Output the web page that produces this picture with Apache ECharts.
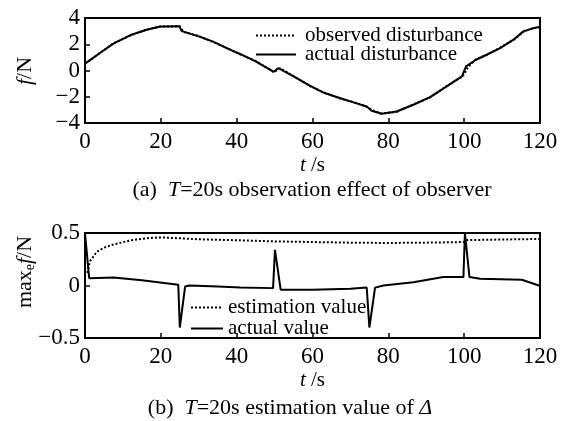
<!DOCTYPE html>
<html>
<head>
<meta charset="utf-8">
<script src="https://cdn.jsdelivr.net/npm/echarts@6/dist/echarts.min.js"></script>
<style>
    html, body { margin: 0; padding: 0; background: #fff; }
    #id-div-chart { width: 561px; height: 421px; }
</style>
</head>
<body>
<div id="id-div-chart"></div>
<script>
// (a) 扰动观测
const actualTime = [0, 4, 7.5, 12, 16.3, 19.8, 24.9, 25.5, 30, 33.8, 38.2, 40.9, 45, 49.8, 50.1, 51, 55, 59.3, 63, 67.2, 71, 74.3, 75.6, 78.2, 82.2, 86.6, 91, 95.4, 99.4, 99.8, 100.5, 103, 105.9, 109.5, 113, 115.6, 118, 120]
const actualForce = [0.52, 1.35, 2.05, 2.7, 3.1, 3.35, 3.37, 3.0, 2.6, 2.2, 1.59, 1.26, 0.7, -0.1, -0.19, 0.19, -0.45, -1.16, -1.7, -2.1, -2.45, -2.74, -3.07, -3.3, -3.12, -2.61, -2.03, -1.21, -0.45, -0.32, 0.31, 0.8, 1.2, 1.71, 2.35, 2.98, 3.2, 3.33]
const observedTime = [0, 4, 7.5, 12, 16.3, 19.8, 24.9, 26, 30, 33.8, 38.2, 40.9, 45, 49.8, 50.3, 51.5, 55, 59.3, 63, 67.2, 71, 74.3, 76, 78.2, 82.2, 86.6, 91, 95.4, 99.4, 100, 101, 103, 105.9, 109.5, 113, 115.6, 118, 120]
const observedForce = [0.5, 1.33, 2.08, 2.66, 3.13, 3.33, 3.39, 2.95, 2.62, 2.17, 1.61, 1.23, 0.73, -0.12, -0.17, 0.16, -0.42, -1.19, -1.67, -2.14, -2.42, -2.77, -3.05, -3.28, -3.15, -2.58, -2.06, -1.18, -0.48, -0.28, 0.27, 0.83, 1.17, 1.74, 2.32, 2.95, 3.22, 3.3]

// (b) 估计值
const estimateTime = [0.6, 1.3, 3.1, 5, 7.5, 12, 16.3, 19.8, 24.9, 30, 40.9, 50, 60, 70, 80, 90, 99.8, 100.5, 110, 120]
const estimateValue = [0.12, 0.23, 0.32, 0.36, 0.39, 0.43, 0.45, 0.458, 0.45, 0.44, 0.43, 0.42, 0.414, 0.408, 0.405, 0.408, 0.414, 0.432, 0.438, 0.443]
const deltaTime = [0, 1.1, 7.5, 15, 24.6, 25, 26.4, 27.5, 35, 41, 49.6, 50.1, 51.6, 60, 70, 74.3, 75, 76.5, 78.7, 86.6, 94.5, 99.8, 100.2, 101.4, 104.2, 115.2, 119.7, 120]
const deltaValue = [0.5, 0.07, 0.077, 0.05, 0.008, -0.4, -0.01, 0.0, -0.01, -0.02, -0.025, 0.34, -0.04, -0.04, -0.03, -0.02, -0.4, -0.02, 0.0, 0.03, 0.08, 0.08, 0.5, 0.08, 0.065, 0.055, 0.0, 0.0]

const font = 'Liberation Serif'

const zip = function (xs, ys) {
    let r = []
    for (let i = 0; i < xs.length; i++) {
        r.push([xs[i], ys[i]])
    }
    return r
}

const minus = function (v) {
    return String(v).replace('-', '\u2212')
}

const xAxisFor = function (index) {
    return {
        type: 'value',
        gridIndex: index,
        min: 0,
        max: 120,
        interval: 20,
        name: '{i|t}{n| /s}',
        nameLocation: 'middle',
        nameGap: 32,
        nameTextStyle: {
            rich: {
                i: { fontFamily: font, fontSize: 21, fontStyle: 'italic', color: '#000' },
                n: { fontFamily: font, fontSize: 21, color: '#000' },
            },
        },
        axisLine: { show: false, onZero: false },
        axisTick: { inside: true, length: 5, lineStyle: { color: '#000', width: 1.5 } },
        axisLabel: { color: '#000', fontFamily: font, fontSize: 23, margin: 7 },
        splitLine: { show: false },
    }
}

const yAxisFor = function (index, min, max, interval) {
    return {
        type: 'value',
        gridIndex: index,
        min: min,
        max: max,
        interval: interval,
        axisLine: { show: false, onZero: false },
        axisTick: { inside: true, length: 5, lineStyle: { color: '#000', width: 1.5 } },
        axisLabel: {
            color: '#000', fontFamily: font, fontSize: 23, margin: 5,
            formatter: (v) => minus(v),
        },
        splitLine: { show: false },
    }
}

const lineSeries = function (name, index, data, dotted) {
    return {
        name: name,
        type: 'line',
        xAxisIndex: index,
        yAxisIndex: index,
        data: data,
        symbol: 'none',
        animation: false,
        lineStyle: {
            color: '#000',
            width: 2,
            type: dotted ? [2, 2] : 'solid',
        },
        itemStyle: { color: '#000' },
    }
}

const legendFor = function (names, left, top, width, pad, gap) {
    return {
        orient: 'vertical',
        left: left,
        top: top,
        data: names,
        itemWidth: width,
        itemHeight: 12,
        itemGap: gap,
        itemStyle: { opacity: 0 },
        textStyle: { fontFamily: font, fontSize: 21, color: '#000', lineHeight: 17, padding: [0, 0, 0, pad] },
    }
}

const textItem = function (x, y, text, rich, rotation) {
    return {
        type: 'text',
        x: x,
        y: y,
        rotation: rotation || 0,
        style: {
            text: text,
            rich: rich,
            align: 'center',
            verticalAlign: 'middle',
            fontFamily: font,
            fontSize: 22,
            fill: '#000',
        },
    }
}

const richBase = {
    n: { fontFamily: font, fontSize: 22, color: '#000' },
    i: { fontFamily: font, fontSize: 22, fontStyle: 'italic', color: '#000' },
    s: { fontFamily: font, fontSize: 14, color: '#000', padding: [10, 0, 0, 0] },
}

const buildOption = function () {
    let option = {
        backgroundColor: '#fff',
        animation: false,
        grid: [
            { left: 85, right: 21, top: 18, height: 105, show: true, borderColor: '#000', borderWidth: 2 },
            { left: 85, right: 21, top: 233, height: 105, show: true, borderColor: '#000', borderWidth: 2 },
        ],
        xAxis: [xAxisFor(0), xAxisFor(1)],
        yAxis: [yAxisFor(0, -4, 4, 2), yAxisFor(1, -0.5, 0.5, 0.5)],
        legend: [
            legendFor(['observed disturbance', 'actual disturbance'], 250, 20, 40, 4, -2),
            legendFor(['estimation value', 'actual value'], 185, 292, 32, 0, 0),
        ],
        series: [
            lineSeries('observed disturbance', 0, zip(observedTime, observedForce), true),
            lineSeries('actual disturbance', 0, zip(actualTime, actualForce), false),
            lineSeries('estimation value', 1, zip(estimateTime, estimateValue), true),
            lineSeries('actual value', 1, zip(deltaTime, deltaValue), false),
        ],
        graphic: [
            textItem(25, 71, '{i|f}{n|/N}', richBase, Math.PI / 2),
            textItem(25, 272, '{n|max}{s|e}{i|f}{n|/N}', richBase, Math.PI / 2),
            textItem(312, 190, '{n|(a)  }{i|T}{n|=20s observation effect of observer}', richBase),
            textItem(290, 408, '{n|(b)  }{i|T}{n|=20s estimation value of }{i|Δ}', richBase),
        ],
    }
    return option
}

const main = function () {
    let chart = echarts.init(document.querySelector('#id-div-chart'), null, { renderer: 'canvas' })
    chart.setOption(buildOption())
}

main()
</script>
</body>
</html>
